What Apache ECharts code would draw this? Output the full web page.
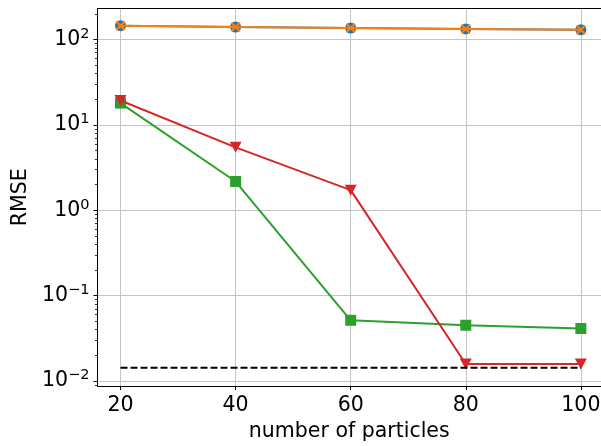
<!DOCTYPE html>
<html>
<head>
<meta charset="utf-8">
<script src="https://cdn.jsdelivr.net/npm/echarts@6/dist/echarts.min.js"></script>
<style>html,body{margin:0;padding:0;background:#fff;overflow:hidden}#c{width:601px;height:446px}</style>
</head>
<body>
<div id="c"></div>
<script>
// ---- data ----
const particles = [20, 40, 60, 80, 100];
const seriesBlue = [145, 140, 136, 133, 130];
const seriesOrange = [145, 140, 136, 133, 130];
const seriesGreen = [18.0, 2.17, 0.0514, 0.045, 0.0412];
const seriesRed = [19.3, 5.45, 1.72, 0.0158, 0.0158];
const referenceLevel = 0.0143;
const referenceX = [20, 100];
const xTickLabels = [20, 40, 60, 80, 100];
const yTickValues = [0.01, 0.1, 1, 10, 100];
const yMinorTicks = [0.009, 0.02, 0.03, 0.04, 0.05, 0.06, 0.07, 0.08, 0.09,
  0.2, 0.3, 0.4, 0.5, 0.6, 0.7, 0.8, 0.9, 2, 3, 4, 5, 6, 7, 8, 9,
  20, 30, 40, 50, 60, 70, 80, 90, 200];
const yExp = {0.01: '−2', 0.1: '−1', 1: '0', 10: '1', 100: '2'};

const pair = (xs, ys) => xs.map((x, i) => [x, ys[i]]);
const xPath = 'path://M0.15,0 L0.5,0.35 L0.85,0 L1,0.15 L0.65,0.5 L1,0.85 L0.85,1 L0.5,0.65 L0.15,1 L0,0.85 L0.35,0.5 L0,0.15 Z';
const FONT = 'DejaVu Sans';
const FS = 20.5;
const xMin = 16, xMax = 103.5;
const yMin = 0.00874, yMax = 230;

const chart = echarts.init(document.getElementById('c'), null, {renderer: 'canvas'});
chart.setOption({
  animation: false,
  backgroundColor: '#fff',
  textStyle: {fontFamily: FONT},
  grid: {left: 97.5, top: 8.6, right: 0, bottom: 60, show: false, containLabel: false, outerBoundsMode: 'none'},
  xAxis: [{
    type: 'value', min: xMin, max: xMax,
    name: 'number of particles', nameLocation: 'middle', nameGap: 33,
    nameTextStyle: {fontFamily: FONT, fontSize: FS, color: '#000'},
    axisLine: {onZero: false, lineStyle: {color: '#000', width: 1}},
    axisTick: {show: true, length: 4, lineStyle: {color: '#000'}, customValues: xTickLabels},
    axisLabel: {fontFamily: FONT, fontSize: FS, color: '#000', margin: 9, customValues: xTickLabels},
    splitLine: {show: true, lineStyle: {color: '#c4c4c4', width: 1}}
  }, {
    type: 'value', min: xMin, max: xMax, position: 'top',
    axisLine: {show: true, onZero: false, lineStyle: {color: '#000', width: 1}},
    axisTick: {show: false}, axisLabel: {show: false}, splitLine: {show: false}
  }],
  yAxis: [{
    type: 'log', logBase: 10, min: yMin, max: yMax,
    name: 'RMSE', nameLocation: 'middle', nameGap: 65, nameRotate: 90,
    nameTextStyle: {fontFamily: FONT, fontSize: FS, color: '#000'},
    axisLine: {show: true, onZero: false, lineStyle: {color: '#000', width: 1}},
    axisTick: {show: true, length: 4, lineStyle: {color: '#000'}, customValues: yTickValues},
    axisLabel: {
      customValues: yTickValues, margin: 8, color: '#000', fontFamily: FONT, fontSize: FS,
      formatter: v => { const k = Object.keys(yExp).find(key => Math.abs(Number(key) - v) / v < 1e-6); return k ? '10{s|' + yExp[k] + '}' : ''; },
      rich: {s: {fontFamily: FONT, fontSize: 14.5, color: '#000', padding: [0, 0, 11, 0]}}
    },
    splitLine: {show: true, lineStyle: {color: '#c4c4c4', width: 1}}
  }, {
    type: 'log', logBase: 10, min: yMin, max: yMax, position: 'left', offset: 0,
    axisLine: {show: false, onZero: false},
    axisTick: {show: true, length: 2.5, lineStyle: {color: '#000', width: 0.8}, customValues: yMinorTicks},
    axisLabel: {show: false},
    splitLine: {show: false}
  }],
  series: [
    {type: 'line', data: pair(particles, seriesBlue), symbol: 'circle', symbolSize: 11,
     itemStyle: {color: '#1f77b4'}, lineStyle: {color: '#1f77b4', width: 2}, z: 2},
    {type: 'line', data: pair(particles, seriesOrange), symbol: xPath, symbolSize: 10,
     itemStyle: {color: '#ff7f0e'}, lineStyle: {color: '#ff7f0e', width: 2}, z: 3},
    {type: 'line', data: pair(particles, seriesGreen), symbol: 'rect', symbolSize: 11,
     itemStyle: {color: '#2ca02c'}, lineStyle: {color: '#2ca02c', width: 2}, z: 4},
    {type: 'line', data: pair(particles, seriesRed), symbol: 'triangle', symbolRotate: 180, symbolSize: [12, 11],
     itemStyle: {color: '#d62728'}, lineStyle: {color: '#d62728', width: 2}, z: 5},
    {type: 'line', data: referenceX.map(x => [x, referenceLevel]), symbol: 'none',
     lineStyle: {color: '#000', width: 2, type: [7, 3]}, z: 6}
  ]
});
</script>
</body>
</html>
